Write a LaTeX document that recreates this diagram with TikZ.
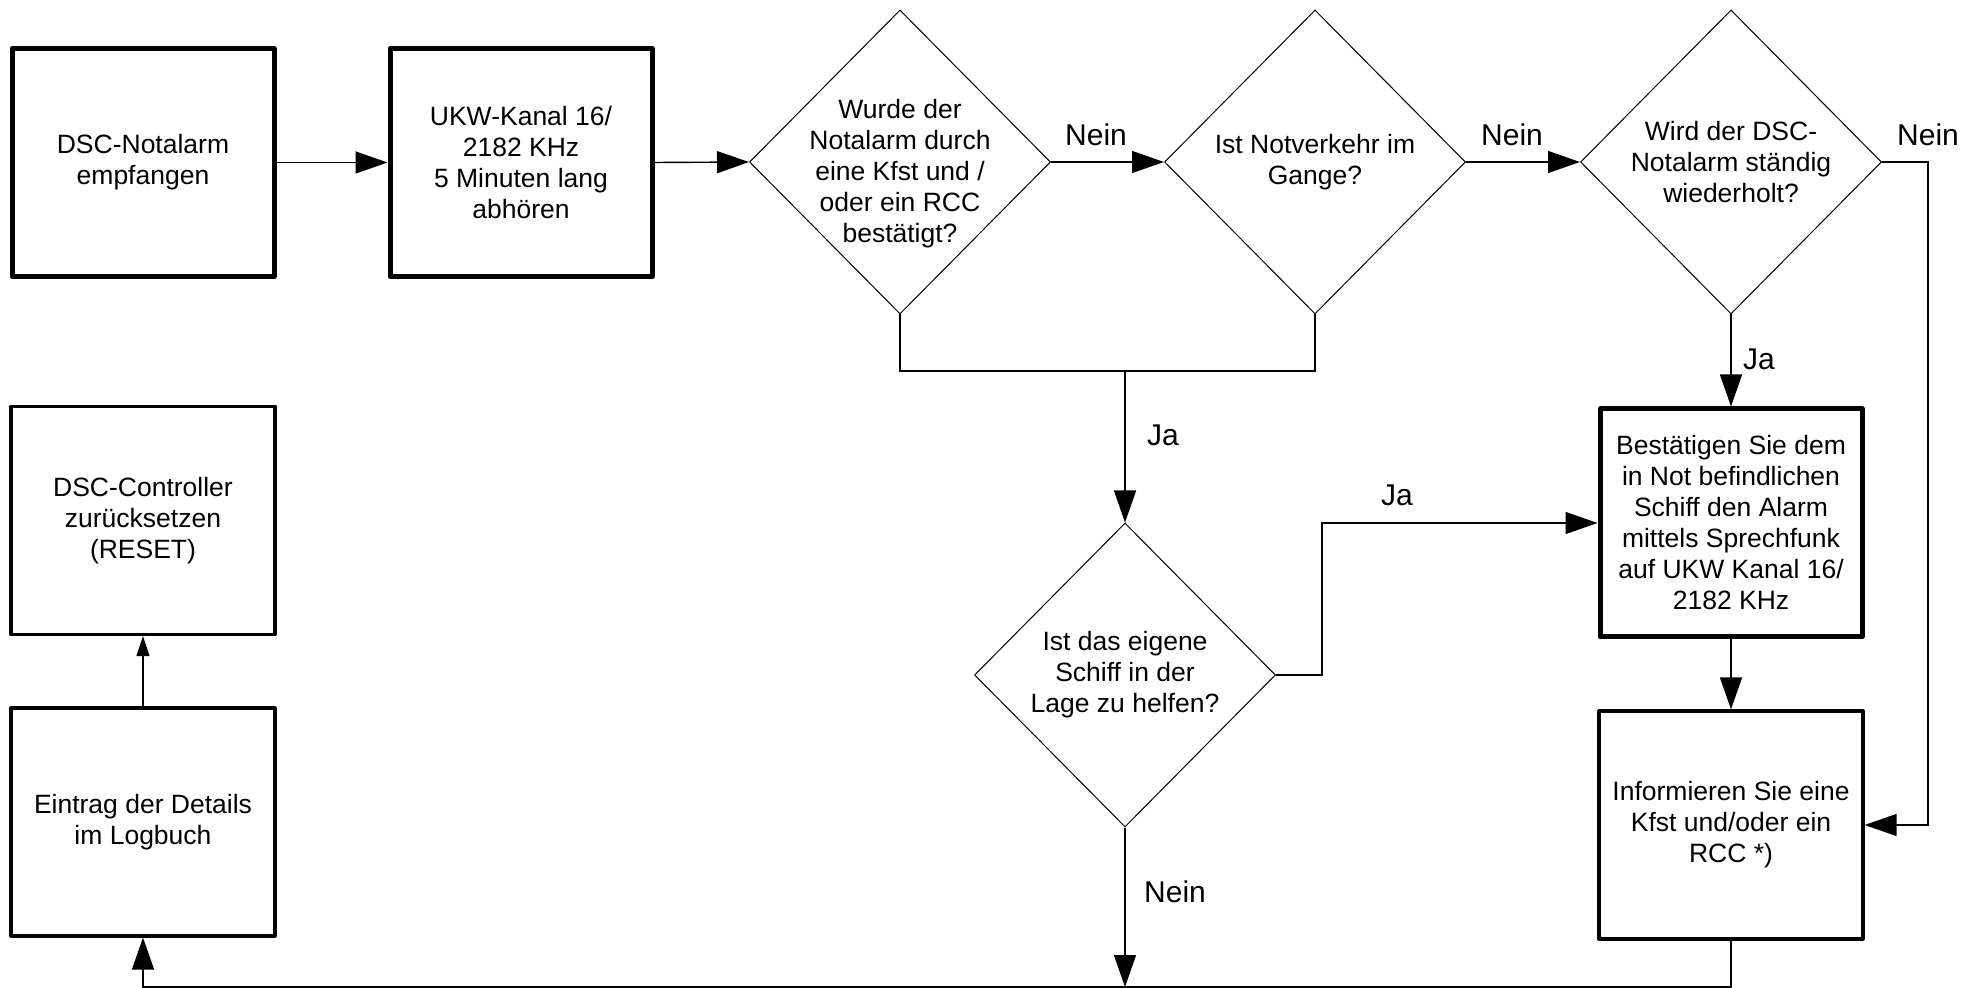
\documentclass[tikz,border=0pt]{standalone}
\usepackage{fontspec}
\setmainfont{Liberation Sans}
\usetikzlibrary{shapes.geometric,arrows.meta}
\begin{document}
\begin{tikzpicture}[x=0.5pt,y=-0.5pt,
  every node/.style={font=\fontsize{13.25}{15.5}\selectfont, align=center},
  boxthick/.style={draw, line width=2.5pt, minimum width=131pt, minimum height=114pt, inner sep=0pt, line join=round},
  boxmed/.style={draw, line width=1.6pt, minimum width=132pt, minimum height=114pt, inner sep=0pt, line join=round},
  dec/.style={draw, diamond, line width=0.5pt, minimum width=150.5pt, minimum height=152pt, inner sep=0pt},
  dtext/.style={inner sep=0pt},
  conn/.style={line width=0.7pt, -{Triangle[length=16pt,width=11pt]}},
  smallconn/.style={line width=0.7pt, -{Triangle[length=10pt,width=6.5pt]}},
  plainline/.style={line width=0.7pt},
  lbl/.style={font=\fontsize{15}{18}\selectfont, inner sep=0pt}
]
\useasboundingbox (0,0) rectangle (1981,988);

% boxes
\node[boxthick] (b1) at (143,162.5) {DSC-Notalarm\\empfangen};
\node[boxthick] (b2) at (521,162.5) {UKW-Kanal 16/\\2182 KHz\\5 Minuten lang\\abhören};
\node[boxthick] (bB) at (1731,523) {Bestätigen Sie dem\\in Not befindlichen\\Schiff den Alarm\\mittels Sprechfunk\\auf UKW Kanal 16/\\2182 KHz};
\node[boxmed] (bI) at (1731,825) {Informieren Sie eine\\Kfst und/oder ein\\RCC *)};
\node[boxmed] (bL) at (143,822) {Eintrag der Details\\im Logbuch};
\node[boxmed] (bC) at (143,520.5) {DSC-Controller\\zurücksetzen\\(RESET)};

% decisions
\node[dec] (d1) at (900,162) {};
\node[dtext] (d1t) at (900,174) {Wurde der\\Notalarm durch\\eine Kfst und /\\oder ein RCC\\bestätigt?};
\node[dec] (d2) at (1315,162) {};
\node[dtext] (d2t) at (1315,162) {Ist Notverkehr im\\Gange?};
\node[dec] (d3) at (1731,162) {};
\node[dtext] (d3t) at (1731,162) {Wird der DSC-\\Notalarm ständig\\wiederholt?};
\node[dec] (d4) at (1125,675) {};
\node[dtext] (d4t) at (1125,675) {Ist das eigene\\Schiff in der\\Lage zu helfen?};

% labels
\node[lbl] (n1) at (1096,135) {Nein};
\node[lbl] (n2) at (1512,135) {Nein};
\node[lbl] (n3) at (1928,135) {Nein};
\node[lbl] (n4) at (1175,892) {Nein};
\node[lbl] (j1) at (1163,435) {Ja};
\node[lbl] (j2) at (1397,495) {Ja};
\node[lbl] (j3) at (1759,359) {Ja};

% helper coordinates
\coordinate (m1) at (900,371);
\coordinate (m2) at (1315,371);
\coordinate (mj) at (1125,371);
\coordinate (r1) at (1322,675);
\coordinate (r2) at (1322,523);
\coordinate (e1) at (1928,162);
\coordinate (e2) at (1928,825);
\coordinate (bot1) at (1731,987);
\coordinate (bot2) at (143,987);
\coordinate (botd) at (1125,987);

% connectors
\draw[conn] (b1.east) -- (b2.west);
\draw[conn] (b2.east) -- (d1.west);
\draw[conn] (d1.east) -- (d2.west);
\draw[conn] (d2.east) -- (d3.west);
\draw[conn] (d3.east) -- (e1) -- (e2) -- (bI.east);
\draw[plainline] (d1.south) -- (m1) -- (m2) -- (d2.south);
\draw[conn] (mj) -- (d4.north);
\draw[conn] (d4.east) -- (r1) -- (r2) -- (bB.west);
\draw[conn] (d3.south) -- (bB.north);
\draw[conn] (bB.south) -- (bI.north);
\draw[conn] (bI.south) -- (bot1) -- (bot2) -- (bL.south);
\draw[conn] (d4.south) -- (botd);
\draw[smallconn] (bL.north) -- (bC.south);
\end{tikzpicture}
\end{document}
